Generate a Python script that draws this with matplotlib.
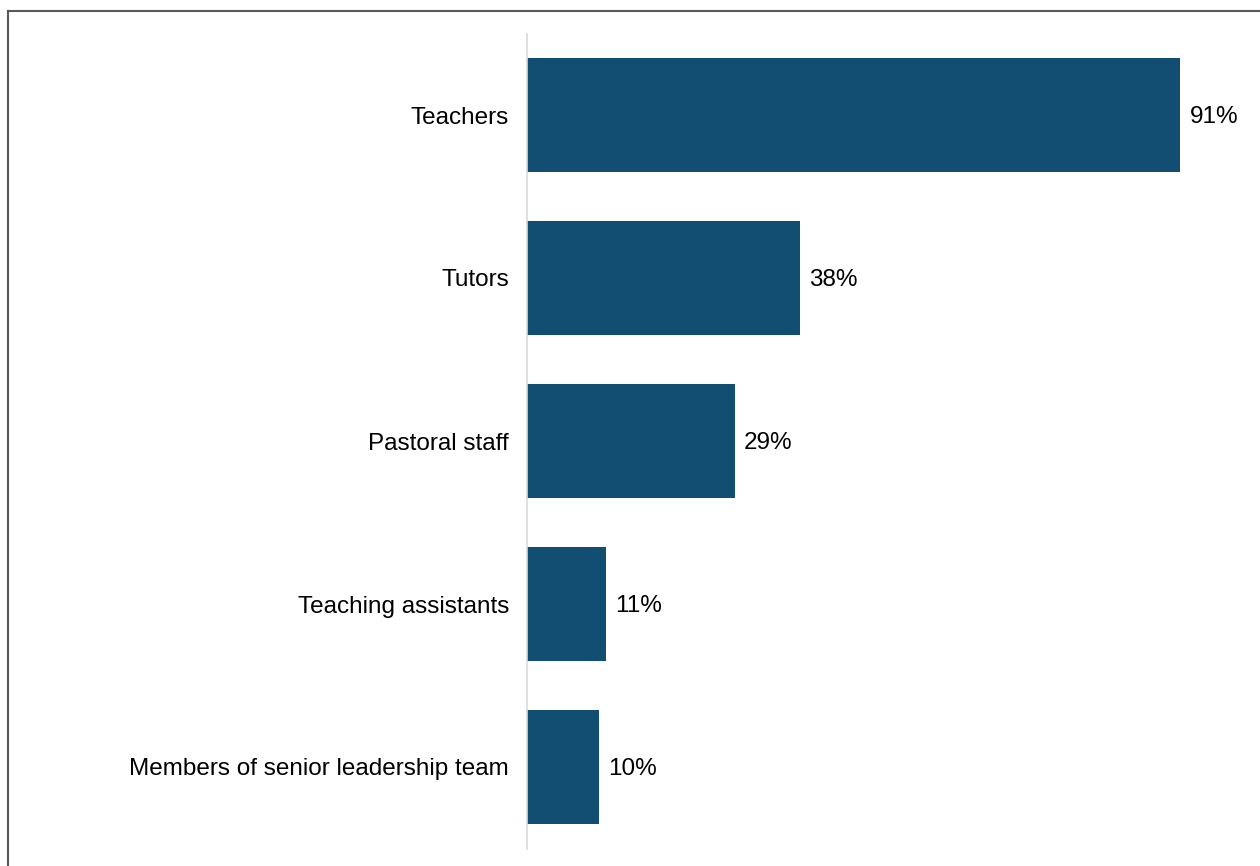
import matplotlib.pyplot as plt
from matplotlib.lines import Line2D

categories = ["Teachers", "Tutors", "Pastoral staff", "Teaching assistants",
              "Members of senior leadership team"]
values = [91, 38, 29, 11, 10]
bar_color = "#124E72"

plt.rcParams["font.family"] = ["Liberation Sans", "DejaVu Sans"]

fig = plt.figure(figsize=(12.6, 8.66), dpi=100)
ax = fig.add_axes([527 / 1260, 1 - 848.5 / 866, (1245 - 527) / 1260, (848.5 - 33.5) / 866])

y = list(range(len(categories)))
bars = ax.barh(y, values, height=0.695, color=bar_color)
ax.set_ylim(len(categories) - 0.5, -0.5)
ax.set_xlim(0, 100)

for b, v in zip(bars, values):
    ax.annotate(f"{v}%", (b.get_width(), b.get_y() + b.get_height() / 2),
                xytext=(6.5, -1.5), textcoords="offset points",
                va="center", ha="left", fontsize=17.5, color="#000000")

ax.set_yticks(y)
ax.set_yticklabels(categories, fontsize=17.5)
ax.tick_params(axis="y", length=0, pad=13)
ax.set_xticks([])
for s in ["top", "right", "bottom"]:
    ax.spines[s].set_visible(False)
ax.spines["left"].set_color("#D9D9D9")
ax.spines["left"].set_linewidth(1.2)

# outer frame (top and left edges)
fig.add_artist(Line2D([7.5 / 1260, 1], [1 - 10.5 / 866, 1 - 10.5 / 866],
                      transform=fig.transFigure, color="#595959", lw=1.5))
fig.add_artist(Line2D([7.5 / 1260, 7.5 / 1260], [0, 1 - 10.5 / 866],
                      transform=fig.transFigure, color="#595959", lw=1.5))

fig.savefig("out.png", dpi=100)
